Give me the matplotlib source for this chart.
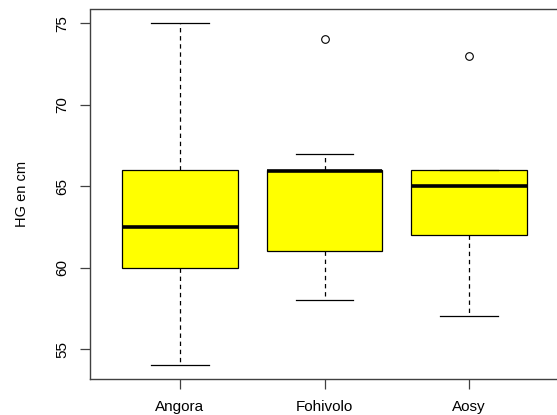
import matplotlib
matplotlib.use("Agg")
import matplotlib.pyplot as plt

# Five-number summaries per breed (HG, cm)
breeds = ["Angora", "Fohivolo", "Aosy"]
whisker_lo = [54, 58, 57]
q1 = [60, 61, 62]
medians = [62.5, 65.9, 65]
q3 = [66, 66, 66]
whisker_hi = [75, 67, 66]
outliers = [[], [74], [73]]

plt.rcParams["font.family"] = ["Liberation Sans", "DejaVu Sans"]

stats = []
for i, name in enumerate(breeds):
    stats.append(dict(label=name, whislo=whisker_lo[i], q1=q1[i], med=medians[i],
                      q3=q3[i], whishi=whisker_hi[i], fliers=outliers[i]))

fig = plt.figure(figsize=(5.57, 4.15), dpi=100)
# right edge of the plot frame falls just past the image border
ax = fig.add_axes([90 / 557, 1 - 379 / 415, 469 / 557, 369.5 / 415])

ax.bxp(stats, positions=[1, 2, 3], widths=0.8, patch_artist=True,
       boxprops=dict(facecolor="#ffff00", edgecolor="black", linewidth=0.9),
       medianprops=dict(color="black", linewidth=2.6, solid_capstyle="butt"),
       whiskerprops=dict(color="black", linewidth=0.9, linestyle=(0, (3.5, 3))),
       capprops=dict(color="black", linewidth=0.9),
       capwidths=0.4,
       flierprops=dict(marker="o", markersize=5.5, markerfacecolor="none",
                       markeredgecolor="black", markeredgewidth=0.8))

ax.set_xlim(0.38, 3.62)
ax.set_ylim(53.16, 75.84)
ax.set_yticks([55, 60, 65, 70, 75])
ax.set_yticklabels(["55", "60", "65", "70", "75"], rotation=90, va="center")

for s in ax.spines.values():
    s.set_color("#404040")
    s.set_linewidth(1.0)

ax.tick_params(axis="both", length=7, width=0.9, color="#404040",
               labelsize=11, pad=8)
ax.set_ylabel("HG en cm", fontsize=10.5, labelpad=19)

fig.savefig("out.png", dpi=100)
